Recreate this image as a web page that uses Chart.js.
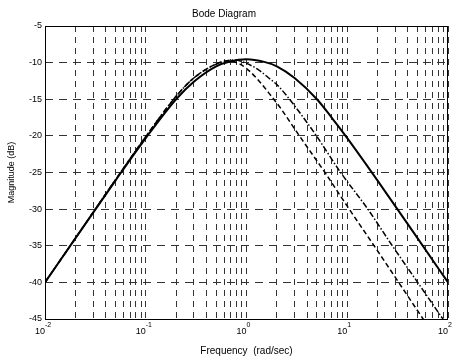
<!DOCTYPE html>
<html>
<head>
<meta charset="utf-8">
<script src="https://cdn.jsdelivr.net/npm/chart.js@4.4.1/dist/chart.umd.min.js"></script>
<style>
  html, body { margin: 0; padding: 0; background: #fff; }
  #wrap { width: 452px; height: 361px; }
</style>
</head>
<body>
<div id="wrap"><canvas id="bodeChart" width="452" height="361"></canvas></div>
<script>
// values (rad/sec, dB)
const freqSolid = [0.01, 0.02, 0.05, 0.1, 0.2, 0.3, 0.5, 0.7, 1, 1.5, 2, 3, 5, 7, 10, 20, 50, 100];
const magSolid = [-40, -34, -26.1, -20.3, -15, -12.6, -10.5, -9.8, -9.55, -9.9, -10.5, -12.1, -15, -17.5, -20.3, -26.1, -34, -40];

const freqDashDot = [0.01, 0.02, 0.05, 0.1, 0.2, 0.3, 0.5, 0.75, 1, 1.35, 1.7, 2, 2.5, 3.2, 4, 4.95, 8.6, 16, 28, 50, 89, 100];
const magDashDot = [-40, -34, -26, -20.1, -14.6, -12.1, -10.2, -9.65, -10.1, -11.1, -12.2, -13, -14.5, -16.4, -18.2, -20, -25, -30, -35, -40, -45, -46];

const freqDashed = [0.01, 0.02, 0.05, 0.1, 0.2, 0.3, 0.5, 0.65, 0.86, 1.08, 1.35, 1.7, 2.2, 3.2, 6, 10, 20, 56, 100];
const magDashed = [-40, -34, -26, -20.1, -14.6, -12.1, -10.2, -9.75, -10.2, -11.2, -12.6, -14.3, -16.3, -19.6, -25, -29.6, -35.7, -44.9, -50];

const xTicks = [0.01, 0.02, 0.03, 0.04, 0.05, 0.06, 0.07, 0.08, 0.09,
    0.1, 0.2, 0.3, 0.4, 0.5, 0.6, 0.7, 0.8, 0.9,
    1, 2, 3, 4, 5, 6, 7, 8, 9,
    10, 20, 30, 40, 50, 60, 70, 80, 90, 100];
const xLabelValues = [0.01, 0.1, 1, 10, 100];
const xLabelExps = ['-2', '-1', '0', '1', '2'];

const FONT = 'Liberation Sans, Arial, sans-serif';

const toPoints = (xs, ys) => xs.map((x, i) => ({ x: x, y: ys[i] }));

// draws the 10^n labels and the plot frame
const bodeDecor = {
    id: 'bodeDecor',
    afterDraw: (chart) => {
        const ctx = chart.ctx;
        const area = chart.chartArea;
        const xScale = chart.scales.x;
        ctx.save();
        ctx.fillStyle = '#000';
        ctx.textBaseline = 'middle';
        xLabelValues.forEach((v, i) => {
            const px = xScale.getPixelForValue(v);
            ctx.font = '9px ' + FONT;
            ctx.textAlign = 'right';
            ctx.fillText('10', px, area.bottom + 13);
            ctx.font = '7px ' + FONT;
            ctx.textAlign = 'left';
            ctx.fillText(xLabelExps[i], px, area.bottom + 6);
        });
        ctx.strokeStyle = '#000';
        ctx.lineWidth = 1;
        ctx.strokeRect(area.left + 0.5, area.top + 0.5, area.right - area.left - 1, area.bottom - area.top);
        ctx.restore();
    }
};

const ctx = document.getElementById('bodeChart').getContext('2d');
new Chart(ctx, {
    type: 'line',
    data: {
        datasets: [
            {
                label: 'solid',
                data: toPoints(freqSolid, magSolid),
                borderColor: '#000',
                borderWidth: 2,
                pointRadius: 0,
                cubicInterpolationMode: 'monotone',
            },
            {
                label: 'dash-dot',
                data: toPoints(freqDashDot, magDashDot),
                borderColor: '#000',
                borderWidth: 1.5,
                borderDash: [6, 2, 1.5, 2],
                pointRadius: 0,
                cubicInterpolationMode: 'monotone',
            },
            {
                label: 'dashed',
                data: toPoints(freqDashed, magDashed),
                borderColor: '#000',
                borderWidth: 1.5,
                borderDash: [5, 3],
                pointRadius: 0,
                cubicInterpolationMode: 'monotone',
            },
        ],
    },
    options: {
        responsive: false,
        animation: false,
        layout: { padding: { left: 0, right: 4, top: 0, bottom: 0 } },
        plugins: {
            legend: { display: false },
            tooltip: { enabled: false },
            title: {
                display: true,
                text: 'Bode Diagram',
                color: '#000',
                font: { family: FONT, size: 10, weight: 'normal' },
                padding: { top: 8, bottom: 6 },
            },
        },
        scales: {
            x: {
                type: 'logarithmic',
                min: 0.01,
                max: 100,
                afterBuildTicks: (scale) => {
                    scale.ticks = xTicks.map(v => ({ value: v }));
                },
                afterFit: (scale) => { scale.height = 42; },
                ticks: {
                    autoSkip: false,
                    maxRotation: 0,
                    callback: () => '',
                },
                grid: { color: '#333', lineWidth: 1, drawTicks: false },
                border: { display: false, dash: [6, 5] },
                title: {
                    display: true,
                    text: 'Frequency  (rad/sec)',
                    color: '#000',
                    font: { family: FONT, size: 10 },
                    padding: { top: 0, bottom: 4 },
                },
            },
            y: {
                type: 'linear',
                min: -45,
                max: -5,
                afterFit: (scale) => { scale.width = 45; },
                ticks: {
                    stepSize: 5,
                    color: '#000',
                    padding: 3,
                    font: { family: FONT, size: 9 },
                },
                grid: { color: '#333', lineWidth: 1, drawTicks: false },
                border: { display: false, dash: [8, 6] },
                title: {
                    display: true,
                    text: 'Magnitude (dB)',
                    color: '#000',
                    font: { family: FONT, size: 9 },
                    padding: { top: 6, bottom: 0 },
                },
            },
        },
    },
    plugins: [bodeDecor],
});
</script>
</body>
</html>
